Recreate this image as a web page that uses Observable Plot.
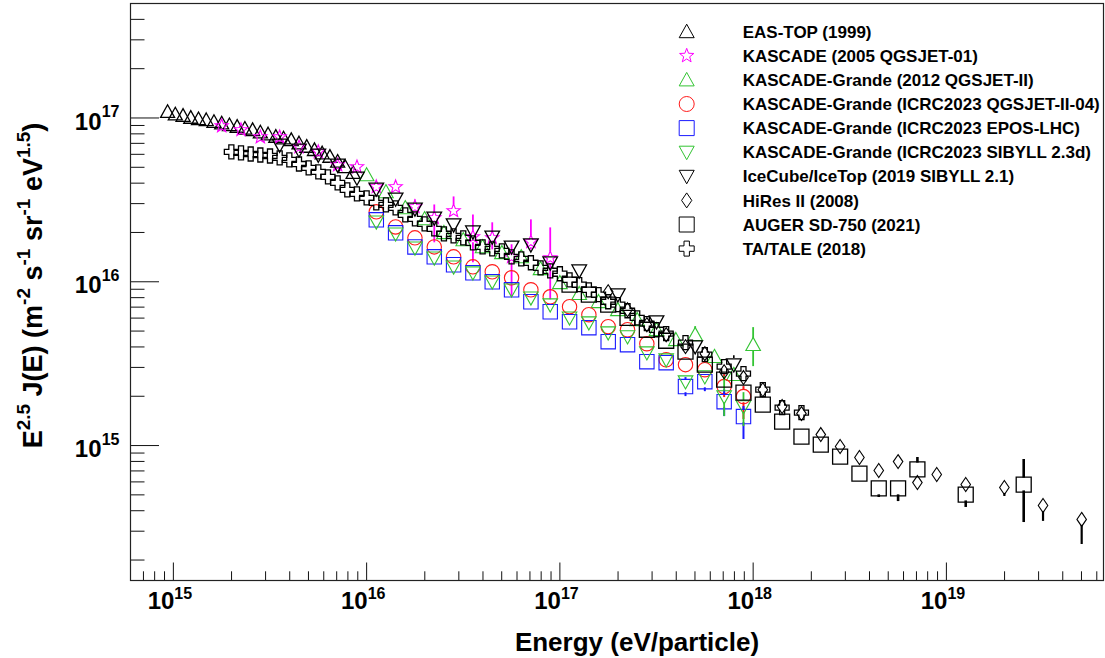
<!DOCTYPE html>
<html><head><meta charset="utf-8">
<script src="https://cdn.jsdelivr.net/npm/d3@7"></script>
<script src="https://cdn.jsdelivr.net/npm/@observablehq/plot@0.6"></script>
<style>
body{margin:0;background:#fff;}
#wrap{width:1105px;height:658px;}
</style></head><body><div id="wrap"></div>
<script>
// ---------------- DATA (lg = log10) ----------------
const easTopLgE = [14.97,15.01,15.05,15.09,15.13,15.17,15.21,15.25,15.29,15.33,15.37,15.41,15.45,15.49,15.53,15.57,15.61,15.65,15.69,15.73,15.77,15.81,15.85,15.89,15.93];
const easTopLgF = [17.038,17.023,17.014,17.002,16.994,16.988,16.977,16.968,16.957,16.947,16.936,16.927,16.913,16.901,16.886,16.876,16.866,16.846,16.825,16.805,16.785,16.764,16.734,16.701,16.665];

const kasLgE = [15.25,15.35,15.45,15.55,15.65,15.75,15.85,15.95,16.05,16.15,16.25,16.35,16.45,16.55,16.65,16.75,16.85,16.95];
const kasLgF = [16.951,16.927,16.884,16.884,16.823,16.793,16.713,16.701,16.579,16.579,16.457,16.390,16.433,16.274,16.268,16.152,16.244,16.146];
const kasErrHi = [null,null,null,null,null,null,null,null,null,null,16.500,16.469,16.518,16.408,16.360,16.226,16.378,16.329];
const kasErrLo = [null,null,null,null,null,null,null,null,null,null,16.415,16.238,16.408,16.116,16.195,15.908,16.195,15.890];

const kg12LgE = [16.0,16.1,16.2,16.3,16.4,16.5,16.6,16.7,16.8,16.9,17.0,17.1,17.2,17.3,17.4,17.5,17.6,17.7,17.8,17.9,18.0];
const kg12LgF = [16.652,16.549,16.451,16.384,16.299,16.256,16.213,16.177,16.152,16.079,15.994,15.927,15.878,15.829,15.768,15.707,15.646,15.677,15.543,15.433,15.616];
const kg12ErrHi = [null,null,null,null,null,null,null,null,null,null,null,null,null,null,null,null,null,15.726,null,null,15.720];
const kg12ErrLo = [null,null,null,null,null,null,null,null,null,null,null,null,null,null,null,null,null,null,null,null,15.482];

const kg23LgE = [16.05,16.15,16.25,16.35,16.45,16.55,16.65,16.75,16.85,16.95,17.05,17.15,17.25,17.35,17.45,17.55,17.65,17.75,17.85,17.95];
const kgQgsLgF = [16.427,16.335,16.268,16.213,16.152,16.091,16.061,16.024,15.951,15.908,15.848,15.799,15.726,15.707,15.622,15.524,15.494,15.463,15.360,15.299];
const kgQgsErrHi = [null,null,null,null,null,null,null,null,null,null,null,null,null,null,null,null,null,null,15.433,15.360];
const kgQgsErrLo = [null,null,null,null,null,null,null,null,null,null,null,null,null,null,null,null,null,null,15.293,15.159];
const kgEposLgF = [16.378,16.299,16.213,16.152,16.104,16.055,16.000,15.951,15.878,15.817,15.756,15.720,15.634,15.616,15.512,15.506,15.360,15.390,15.268,15.177];
const kgEposErrHi = [null,null,null,null,null,null,null,null,null,null,null,null,null,null,null,null,15.415,15.433,15.341,15.238];
const kgEposErrLo = [null,null,null,null,null,null,null,null,null,null,null,null,null,null,null,null,15.299,15.329,15.177,15.037];
const kgSibLgF = [16.366,16.293,16.207,16.146,16.091,16.055,16.000,15.951,15.902,15.860,15.780,15.750,15.689,15.665,15.567,15.524,15.390,15.421,15.299,15.238];
const kgSibErrHi = [null,null,null,null,null,null,null,null,null,null,null,null,null,null,null,null,null,null,15.421,15.323];
const kgSibErrLo = [null,null,null,null,null,null,null,null,null,null,null,null,null,null,null,null,null,null,15.177,15.116];

const iceLgE = [15.55,15.65,15.75,15.85,15.95,16.05,16.15,16.25,16.35,16.45,16.55,16.65,16.75,16.85,16.95,17.1,17.3,17.5,17.7,17.9];
const iceLgF = [16.835,16.805,16.774,16.713,16.634,16.567,16.506,16.445,16.390,16.348,16.305,16.274,16.213,16.226,16.116,16.067,15.921,15.756,15.604,15.494];
const iceErrHi = [null,null,null,null,null,null,null,null,null,null,null,null,null,null,null,null,null,null,null,15.549];

const hiresLgE = [17.25,17.35,17.45,17.55,17.65,17.75,17.85,17.95,18.05,18.15,18.25,18.35,18.45,18.55,18.65,18.75,18.85,18.95,19.1,19.3,19.5,19.7];
const hiresLgF = [15.939,15.829,15.738,15.677,15.604,15.561,15.451,15.415,15.341,15.238,15.195,15.067,14.994,14.927,14.848,14.902,14.774,14.823,14.762,14.744,14.634,14.549];
const hiresErrLo = [null,null,null,null,null,null,null,null,null,null,null,null,null,null,null,null,14.745,null,null,14.689,14.537,14.396];

const augerLgE = [17.05,17.15,17.25,17.35,17.45,17.55,17.65,17.75,17.85,17.95,18.05,18.15,18.25,18.35,18.45,18.55,18.65,18.75,18.85,19.1,19.4];
const augerLgF = [15.982,15.921,15.860,15.780,15.707,15.640,15.573,15.494,15.402,15.323,15.250,15.146,15.055,15.006,14.933,14.829,14.738,14.738,14.854,14.701,14.762];
const augerErrHi = [null,null,null,null,null,null,null,null,null,null,null,null,null,null,null,null,null,null,14.927,null,14.915];
const augerErrLo = [null,null,null,null,null,null,null,null,null,null,null,null,null,null,null,null,14.683,14.658,null,14.622,14.530];

const taLgE = [15.30,15.35,15.40,15.45,15.50,15.55,15.60,15.65,15.70,15.75,15.80,15.85,15.90,15.95,16.00,16.05,16.10,16.15,16.20,16.25,16.30,16.35,16.40,16.45,16.50,16.55,16.60,16.65,16.70,16.75,16.80,16.85,16.90,16.95,17.00,17.05,17.10,17.15,17.20,17.25,17.30,17.35,17.40,17.45,17.50,17.55,17.65,17.75,17.85,17.95,18.05,18.15,18.25];
const taLgF = [16.793,16.787,16.780,16.774,16.768,16.756,16.744,16.719,16.695,16.671,16.640,16.604,16.561,16.537,16.512,16.482,16.469,16.451,16.408,16.384,16.354,16.323,16.293,16.280,16.268,16.238,16.213,16.201,16.189,16.152,16.140,16.116,16.085,16.067,16.049,16.012,15.982,15.951,15.921,15.878,15.860,15.823,15.780,15.744,15.707,15.683,15.628,15.555,15.482,15.439,15.341,15.232,15.201];

const legendNames = ["EAS-TOP (1999)","KASCADE (2005 QGSJET-01)","KASCADE-Grande (2012 QGSJET-II)","KASCADE-Grande (ICRC2023 QGSJET-II-04)","KASCADE-Grande (ICRC2023 EPOS-LHC)","KASCADE-Grande (ICRC2023 SIBYLL 2.3d)","IceCube/IceTop (2019 SIBYLL 2.1)","HiRes II (2008)","AUGER SD-750 (2021)","TA/TALE (2018)"];
const xTickExps = [15,16,17,18,19];
const yTickExps = [15,16,17];
const xTitle = "Energy (eV/particle)";

// ---------------- LAYOUT / STYLE ----------------
const W = 1105, H = 658, ML = 130, MR = 2, MT = 3, MB = 78;
const X_DOMAIN = [6e14, 6.5e19], Y_DOMAIN = [1.5e14, 5e17];
const FONT = "'Liberation Sans', Arial, Helvetica, sans-serif";
const GREEN = "#33c433", RED = "#ff1a1a", BLUE = "#1a1aff", MAG = "#ff00ff", BLK = "#000";

function sym(fn){ return {draw(c, size){ fn(c, Math.sqrt(size/Math.PI)); }}; }
const triUp = sym((c,s)=>{c.moveTo(0,-s); c.lineTo(s,0.8*s); c.lineTo(-s,0.8*s); c.closePath();});
const triDown = sym((c,s)=>{c.moveTo(0,s); c.lineTo(s,-0.8*s); c.lineTo(-s,-0.8*s); c.closePath();});
const square = sym((c,s)=>{c.moveTo(-s,-s); c.lineTo(s,-s); c.lineTo(s,s); c.lineTo(-s,s); c.closePath();});
const circle = sym((c,s)=>{c.moveTo(s,0); c.arc(0,0,s,0,2*Math.PI);});
const star = sym((c,s)=>{for(let i=0;i<10;i++){const a=-Math.PI/2+i*Math.PI/5, rr=i%2? s*0.42 : s; const x=rr*Math.cos(a), y=rr*Math.sin(a); if(i) c.lineTo(x,y); else c.moveTo(x,y);} c.closePath();});
const crossO = sym((c,s)=>{const a=s*0.36; const p=[[-a,-s],[a,-s],[a,-a],[s,-a],[s,a],[a,a],[a,s],[-a,s],[-a,a],[-s,a],[-s,-a],[-a,-a]]; p.forEach((q,i)=> i? c.lineTo(q[0],q[1]) : c.moveTo(q[0],q[1])); c.closePath();});
const diamond = sym((c,s)=>{c.moveTo(0,-s); c.lineTo(0.68*s,0); c.lineTo(0,s); c.lineTo(-0.68*s,0); c.closePath();});

const series = [
  {lgE: easTopLgE, lgF: easTopLgF, symbol: triUp, color: BLK, r: 7, sw: 1.3},
  {lgE: kasLgE, lgF: kasLgF, hi: kasErrHi, lo: kasErrLo, symbol: star, color: MAG, r: 7, sw: 1.1, esw: 1.8},
  {lgE: kg12LgE, lgF: kg12LgF, hi: kg12ErrHi, lo: kg12ErrLo, symbol: triUp, color: GREEN, r: 7.3, sw: 1.1, esw: 1.8},
  {lgE: kg23LgE, lgF: kgQgsLgF, hi: kgQgsErrHi, lo: kgQgsErrLo, symbol: circle, color: RED, r: 7.2, sw: 1.1, esw: 2},
  {lgE: kg23LgE, lgF: kgEposLgF, hi: kgEposErrHi, lo: kgEposErrLo, symbol: square, color: BLUE, r: 7.2, sw: 1.1, esw: 2},
  {lgE: kg23LgE, lgF: kgSibLgF, hi: kgSibErrHi, lo: kgSibErrLo, symbol: triDown, color: GREEN, r: 7.3, sw: 1.1, esw: 1.8},
  {lgE: iceLgE, lgF: iceLgF, hi: iceErrHi, symbol: triDown, color: BLK, r: 7.3, sw: 1.3, esw: 1.6},
  {lgE: hiresLgE, lgF: hiresLgF, lo: hiresErrLo, symbol: diamond, color: BLK, r: 7, sw: 1.1, esw: 2.2},
  {lgE: augerLgE, lgF: augerLgF, hi: augerErrHi, lo: augerErrLo, symbol: square, color: BLK, r: 7.5, sw: 1.3, esw: 2.6},
  {lgE: taLgE, lgF: taLgF, symbol: crossO, color: BLK, r: 7, sw: 1.3}
];

const plotH = H - MT - MB, plotW = W - ML - MR;
const pxPerDec = plotH / Math.log10(Y_DOMAIN[1]/Y_DOMAIN[0]);

const marks = [];
series.forEach(s => {
  const rows = s.lgE.map((e,i)=>({
    E: 10**e, F: 10**s.lgF[i],
    hi: s.hi && s.hi[i]!=null ? 10**s.hi[i] : null,
    lo: s.lo && s.lo[i]!=null ? 10**s.lo[i] : null
  }));
  const up = rows.filter(d => d.hi!=null && Math.log10(d.hi/d.F)*pxPerDec > s.r*0.85);
  const dn = rows.filter(d => d.lo!=null && Math.log10(d.F/d.lo)*pxPerDec > s.r*0.85);
  marks.push(Plot.ruleX(up, {x:"E", y1:"hi", y2:"F", insetBottom: s.r*0.85, stroke: s.color, strokeWidth: s.esw}));
  marks.push(Plot.ruleX(dn, {x:"E", y1:"F", y2:"lo", insetTop: s.r*0.85, stroke: s.color, strokeWidth: s.esw}));
  marks.push(Plot.dot(rows, {x:"E", y:"F", symbol: s.symbol, r: s.r, fill:"none", stroke: s.color, strokeWidth: s.sw}));
});

// tick positions
const xMajor = xTickExps.map(e=>10**e);
const xMinor = [], yMinor = [];
for (let d=14; d<=19; d++) for (let m=2; m<=9; m++){ const v=m*10**d; if(v>X_DOMAIN[0] && v<X_DOMAIN[1]) xMinor.push(v); }
for (let d=14; d<=17; d++) for (let m=2; m<=9; m++){ const v=m*10**d; if(v>Y_DOMAIN[0] && v<Y_DOMAIN[1]) yMinor.push(v); }
const yMajor = yTickExps.map(e=>10**e);

marks.push(
  Plot.tickX(xMajor, {x: d=>d, insetTop: plotH-17.5, stroke: "#111", strokeWidth: 1}),
  Plot.tickX(xMinor, {x: d=>d, insetTop: plotH-8.7, stroke: "#111", strokeWidth: 1}),
  Plot.tickY(yMajor, {y: d=>d, insetRight: plotW-29, stroke: "#111", strokeWidth: 1}),
  Plot.tickY(yMinor, {y: d=>d, insetRight: plotW-14.5, stroke: "#111", strokeWidth: 1}),
  Plot.frame({stroke: "#222", strokeWidth: 1.2}),
  Plot.text(xTickExps, {x: d=>10**d, frameAnchor:"bottom", text: ()=>"10", textAnchor:"end", dx: 1, dy: 28, fontSize: 24, fontWeight: "bold", fill: BLK}),
  Plot.text(xTickExps, {x: d=>10**d, frameAnchor:"bottom", text: d=>String(d), textAnchor:"start", dx: 1, dy: 18, fontSize: 16, fontWeight: "bold", fill: BLK}),
  Plot.text(yTickExps, {y: d=>10**d, frameAnchor:"left", text: ()=>"10", textAnchor:"end", dx: -29, dy: 4, fontSize: 24, fontWeight: "bold", fill: BLK}),
  Plot.text(yTickExps, {y: d=>10**d, frameAnchor:"left", text: d=>String(d), textAnchor:"end", dx: -11, dy: -6, fontSize: 16, fontWeight: "bold", fill: BLK})
);

const chart = Plot.plot({
  width: W, height: H, marginLeft: ML, marginRight: MR, marginTop: MT, marginBottom: MB,
  x: {type: "log", domain: X_DOMAIN, axis: null},
  y: {type: "log", domain: Y_DOMAIN, axis: null},
  style: {fontFamily: FONT, background: "white", overflow: "visible"},
  marks
});
document.getElementById("wrap").appendChild(chart);

const svg = d3.select(chart);
// axis titles
svg.append("text").attr("x", 637).attr("y", 651).attr("text-anchor","middle")
  .style("font-family", FONT).style("font-weight","bold").style("font-size","26px").text(xTitle);

const yParts = [["E",0],["2.5",1],[" J(E) (m",0],["-2",1],[" s",0],["-1",1],[" sr",0],["-1",1],[" eV",0],["1.5",1],[")",0]];
const yt = svg.append("text").attr("transform", `translate(42,${MT + plotH/2 - 6}) rotate(-90)`).attr("text-anchor","middle")
  .style("font-family", FONT).style("font-weight","bold").style("font-size","27px");
let prevSup = 0;
yParts.forEach(([t,sup])=>{
  const ts = yt.append("tspan").text(t);
  if (sup) { ts.attr("dy", prevSup ? 0 : -12).style("font-size","19px"); }
  else { ts.attr("dy", prevSup ? 12 : 0); }
  prevSup = sup;
});

// legend
const lg = svg.append("g").attr("text-anchor","start");
legendNames.forEach((name,i)=>{
  const y = 31.7 + 24.1*i, s = series[i];
  lg.append("path").attr("d", d3.symbol(s.symbol, Math.PI*7.5*7.5)())
    .attr("transform", `translate(686.7,${y})`).attr("fill","none").attr("stroke", s.color).attr("stroke-width", 1);
  lg.append("text").attr("x", 742.7).attr("y", y).attr("dy","0.36em").attr("text-anchor","start")
    .style("font-family", FONT).style("font-weight","bold").style("font-size","17px").attr("fill","#000").text(name);
});
</script></body></html>
